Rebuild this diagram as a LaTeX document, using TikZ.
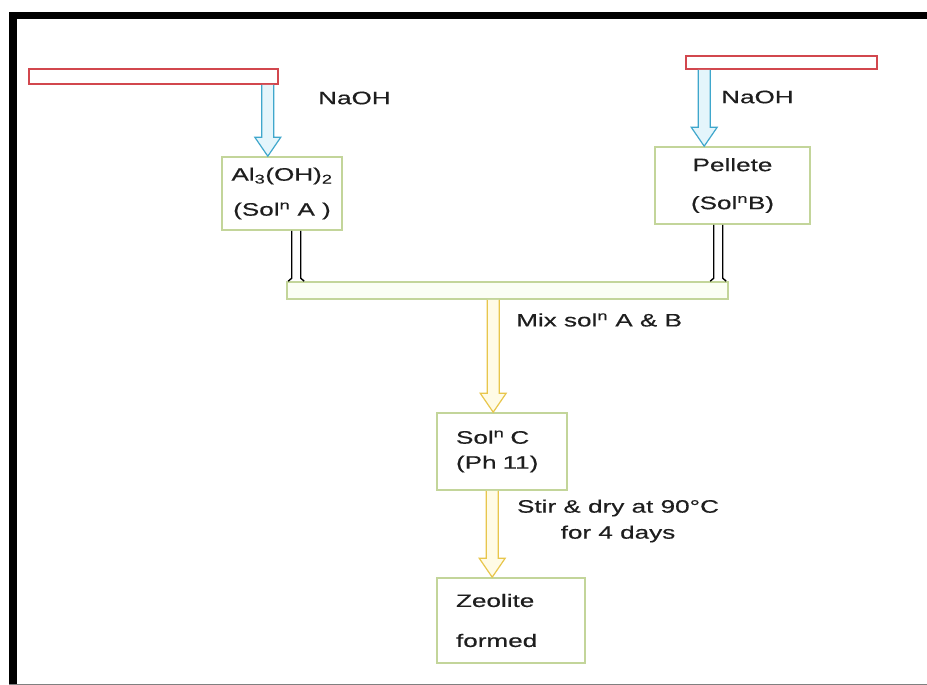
\documentclass[tikz,border=0pt]{standalone}
\usepackage{fontspec}
\setmainfont{Liberation Sans}[FakeStretch=1.45,FakeBold=0.4]
\usepackage{tikz}
\usetikzlibrary{calc,positioning}
\definecolor{ink}{HTML}{1E1E1E}
\definecolor{trayred}{HTML}{D2474E}
\definecolor{boxgreen}{HTML}{C3D59A}
\definecolor{palegreen}{HTML}{FBFEF4}
\definecolor{naohblue}{HTML}{3FA7CC}
\definecolor{paleblue}{HTML}{E4F5FB}
\definecolor{gold}{HTML}{E8C64C}
\definecolor{palegold}{HTML}{FFFBE6}
\tikzset{tray/.style={draw=trayred,line width=1.6pt,fill=white,inner sep=0pt},box/.style={draw=boxgreen,line width=1.6pt,fill=white,inner sep=0pt},feed/.style={draw=naohblue,fill=paleblue,line width=1.2pt},flow/.style={draw=gold,fill=palegold,line width=1.2pt},pipe/.style={draw=black,line width=1.4pt},lbl/.style={inner sep=0pt,anchor=west}}
\newcommand\hollowarrow[3]{\path[#1] let \p1=(#2),\p2=(#3) in (\x1-6pt,\y1)--(\x1-6pt,\y2+19pt)--(\x1-13pt,\y2+19pt)--(\x1,\y2)--(\x1+13pt,\y2+19pt)--(\x1+6pt,\y2+19pt)--(\x1+6pt,\y1);}
\newcommand\pipe[2]{\draw[pipe] let \p1=(#1),\p2=(#2) in (\x1-4.5pt,\y1)--(\x1-4.5pt,\y2+3pt)--(\x1-8pt,\y2) (\x1+4.5pt,\y1)--(\x1+4.5pt,\y2+3pt)--(\x1+8pt,\y2);}
\begin{document}
\begin{tikzpicture}[x=1pt,y=-1pt,font=\fontsize{18}{22}\selectfont,text=ink]
\useasboundingbox (0,0) rectangle (927,685);
\fill[white] (0,0) rectangle (927,685);
\draw[line width=7.5pt] (13,685)--(13,15.5)--(927,15.5);
\draw[gray,line width=1.2pt] (9,684.2)--(927,684.2);
\node[tray,minimum width=249pt,minimum height=15pt] (trayA) at (153.5,76.5) {};
\node[tray,minimum width=191pt,minimum height=13pt] (trayB) at (781.5,62.5) {};
\node[box,minimum width=120pt,minimum height=73pt,align=center] (solA) at (282,193.5) {Al\textsubscript{3}(OH)\textsubscript{2}\\[13pt](Sol\textsuperscript{n} A )};
\node[box,minimum width=155pt,minimum height=77pt,align=center] (solB) at (732.5,185.5) {Pellete\\[16pt](Sol\textsuperscript{n}B)};
\node[box,minimum width=441pt,minimum height=17pt,fill=palegreen] (mixbar) at (507.5,290.5) {};
\node[box,minimum height=77pt,text width=92pt,inner xsep=19pt,align=left] (solC) at (502,451.5) {Sol\textsuperscript{n} C\\[3pt](Ph 11)};
\node[box,minimum height=85pt,text width=110pt,inner xsep=19pt,align=left] (zeolite) at (511,620.5) {Zeolite\\[18pt]formed};
\node[lbl] (naohA) at (318,98) {NaOH};
\node[lbl] (naohB) at (721,97) {NaOH};
\node[lbl] (mixlbl) at (516,320) {Mix sol\textsuperscript{n} A \& B};
\node[align=center] (stirlbl) at (618,521) {Stir \& dry at 90°C\\[4pt]for 4 days};
\hollowarrow{feed}{$(trayA.south east)+(-11,0)$}{solA.north}
\hollowarrow{feed}{$(trayB.south west)+(19,0)$}{solB.north}
\hollowarrow{flow}{$(mixbar.south west)+(207,0)$}{solC.north}
\hollowarrow{flow}{$(solC.south west)+(56,0)$}{zeolite.north}
\pipe{$(solA.south west)+(75,0)$}{mixbar.north}
\pipe{$(solB.south west)+(64,0)$}{mixbar.north}
\end{tikzpicture}
\end{document}
